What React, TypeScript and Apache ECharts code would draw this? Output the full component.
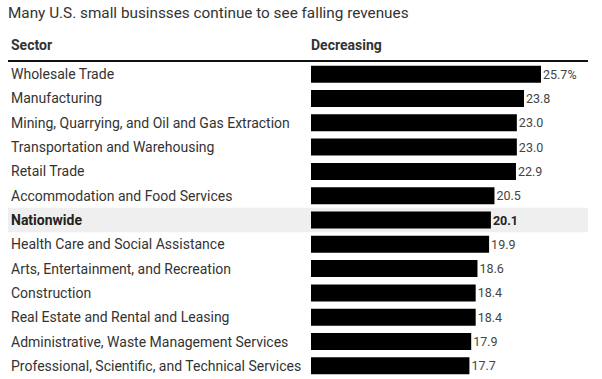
import React, { useEffect, useRef } from "react";
import * as echarts from "echarts";

const title = "Many U.S. small businsses continue to see falling revenues";
const headerSector = "Sector";
const headerValue = "Decreasing";
const sectors = [
  "Wholesale Trade",
  "Manufacturing",
  "Mining, Quarrying, and Oil and Gas Extraction",
  "Transportation and Warehousing",
  "Retail Trade",
  "Accommodation and Food Services",
  "Nationwide",
  "Health Care and Social Assistance",
  "Arts, Entertainment, and Recreation",
  "Construction",
  "Real Estate and Rental and Leasing",
  "Administrative, Waste Management Services",
  "Professional, Scientific, and Technical Services",
];
const values = [25.7, 23.8, 23.0, 23.0, 22.9, 20.5, 20.1, 19.9, 18.6, 18.4, 18.4, 17.9, 17.7];
const highlight = "Nationwide";

const FONT = "Roboto, 'Liberation Sans', Arial, sans-serif";

export default function App() {
  const ref = useRef<HTMLDivElement>(null);
  useEffect(() => {
    if (!ref.current) return;
    const chart = echarts.init(ref.current, undefined, { renderer: "svg" });
    const gridTop = 62;
    const gridHeight = 316;
    const band = gridHeight / sectors.length;
    const hiIdx = sectors.indexOf(highlight);
    chart.setOption({
      animation: false,
      textStyle: { fontFamily: FONT },
      grid: { left: 311, top: gridTop, height: gridHeight, right: 22.5 },
      xAxis: {
        type: "value",
        min: 0,
        max: 30,
        show: false,
      },
      yAxis: {
        type: "category",
        inverse: true,
        data: sectors,
        axisLine: { show: false },
        axisTick: { show: false },
        axisLabel: {
          align: "left",
          margin: 300,
          fontSize: 14,
          color: "#333",
          fontFamily: FONT,
          formatter: (v: string) => (v === highlight ? `{b|${v}}` : v),
          rich: { b: { fontWeight: "bold", fontSize: 14, color: "#222", fontFamily: FONT } },
        },
      },
      graphic: [
        {
          type: "rect",
          z: -1,
          shape: { x: 8, y: gridTop + band * hiIdx, width: 580, height: band },
          style: { fill: "#efefef" },
        },
        {
          type: "text",
          x: 8,
          y: 5,
          style: { text: title, fontSize: 15.3, fill: "#333", fontFamily: FONT },
        },
        {
          type: "text",
          x: 11,
          y: 38,
          style: { text: headerSector, fontSize: 14, fontWeight: "bold", fill: "#333", fontFamily: FONT },
        },
        {
          type: "text",
          x: 311,
          y: 38,
          style: { text: headerValue, fontSize: 14, fontWeight: "bold", fill: "#333", fontFamily: FONT },
        },
        {
          type: "line",
          shape: { x1: 8, y1: 61, x2: 588, y2: 61 },
          style: { stroke: "#111", lineWidth: 2 },
        },
      ],
      series: [
        {
          type: "bar",
          data: values.map((v, i) => ({
            value: v,
            label: sectors[i] === highlight ? { fontWeight: "bold", color: "#222" } : undefined,
          })),
          barWidth: 17,
          itemStyle: { color: "#000" },
          label: {
            show: true,
            position: "right",
            distance: 2,
            fontSize: 12.5,
            color: "#444",
            fontFamily: FONT,
            formatter: (p: any) => (p.dataIndex === 0 ? p.value.toFixed(1) + "%" : p.value.toFixed(1)),
          },
        },
      ],
    });
    return () => chart.dispose();
  }, []);
  return <div ref={ref} style={{ position: "absolute", left: 0, top: 0, width: 602, height: 379 }} />;
}
